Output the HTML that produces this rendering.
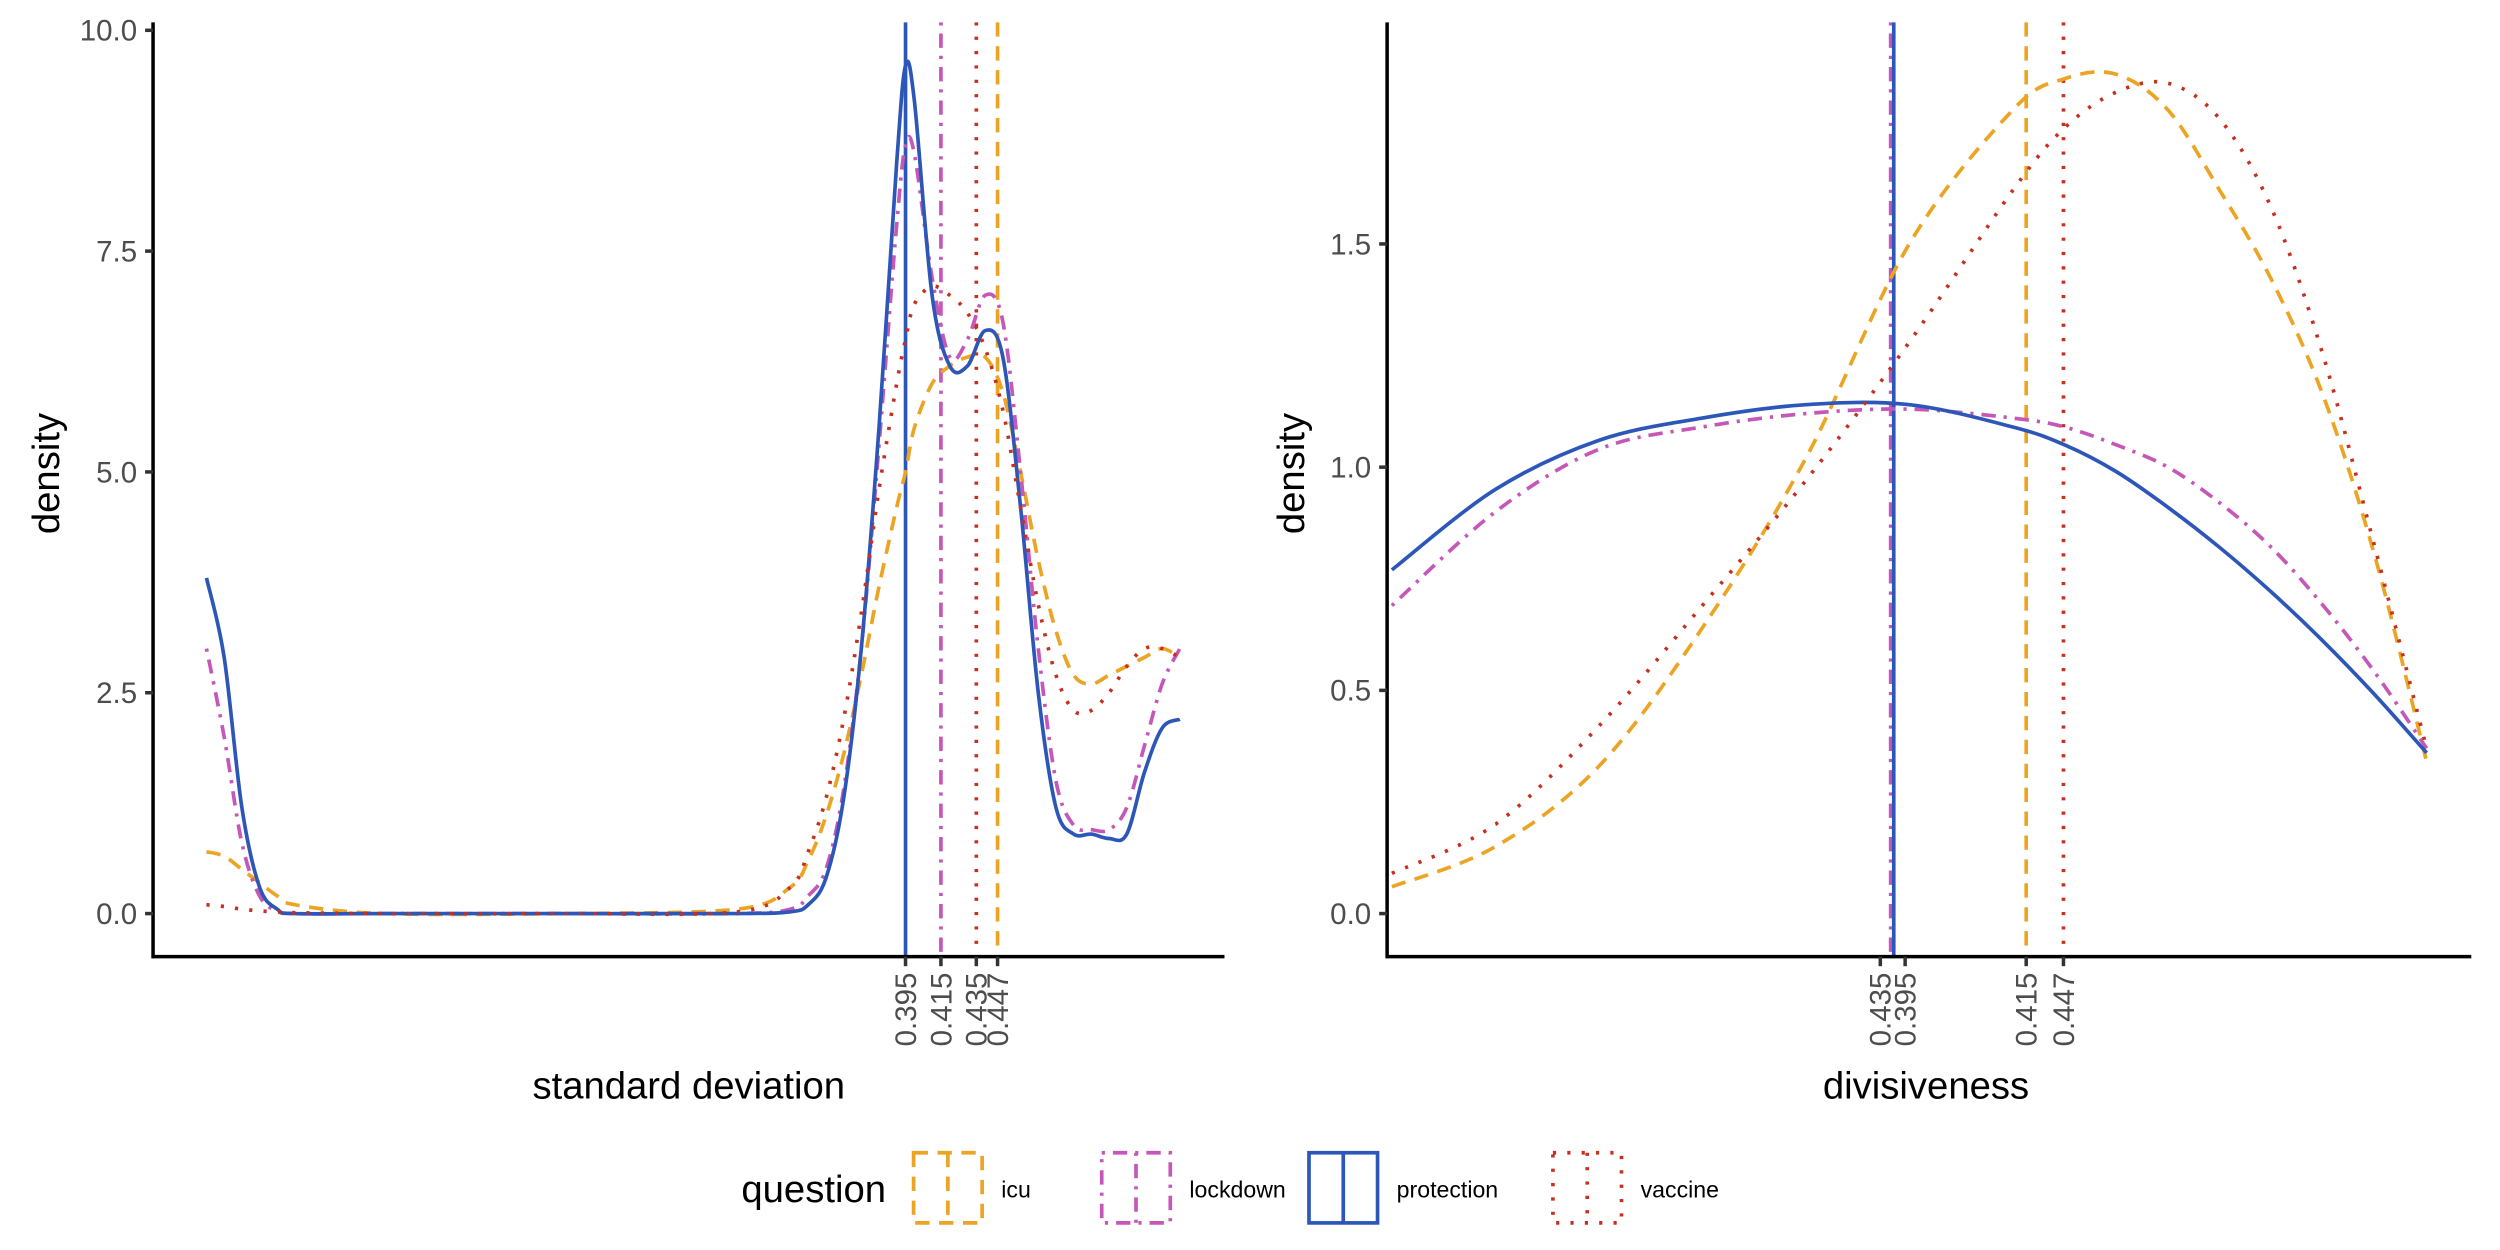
<!DOCTYPE html>
<html><head><meta charset="utf-8"><style>
html,body{margin:0;padding:0;background:#fff;}
svg{display:block;font-family:"Liberation Sans",Arial,sans-serif;}
</style></head><body>
<svg id="chart" width="2500" height="1250" viewBox="0 0 1568 784" xmlns="http://www.w3.org/2000/svg">
<g id="left"></g>
<g id="right"></g>
<g id="legend"></g>
</svg>
<script>
// ---- data ----
const seriesNames = ["icu","lockdown","protection","vaccine"];
const sdGrid = [0,0.01,0.02,0.03,0.04,0.05,0.1,0.2,0.3,0.33,0.34,0.35,0.36,0.37,0.38,0.39,0.395,0.40,0.41,0.42,0.43,0.44,0.45,0.46,0.47,0.48,0.49,0.50,0.51,0.52,0.53,0.54,0.55];
const sdIcu =        [0.7,0.65,0.5,0.35,0.2,0.1,0,0,0.05,0.3,0.6,1.1,1.8,2.7,3.7,4.6,5.0,5.5,6.0,6.2,6.3,6.3,5.9,5.0,4.0,3.2,2.7,2.6,2.7,2.8,2.9,3.0,2.9];
const sdLockdown =   [3.0,2.0,0.8,0.2,0.03,0,0,0,0,0.05,0.2,0.5,1.4,3.0,5.3,7.8,8.7,8.6,7.2,6.3,6.5,7.0,6.7,5.0,3.0,1.5,1.0,0.95,0.95,1.2,1.9,2.6,3.0];
const sdProtection = [3.8,2.9,1.2,0.3,0.05,0,0,0,0,0.02,0.1,0.4,1.3,3.0,5.5,8.5,9.6,9.2,7.0,6.2,6.2,6.6,6.3,4.6,2.5,1.2,0.9,0.9,0.85,0.9,1.6,2.1,2.2];
const sdVaccine =    [0.1,0.08,0.05,0.03,0.02,0.01,0,0,0.02,0.3,0.7,1.3,2.2,3.4,4.8,6.0,6.5,6.9,7.1,7.0,6.8,6.4,5.7,4.6,3.5,2.7,2.3,2.3,2.5,2.8,3.0,3.0,2.9];
const sdMeans = [0.447,0.415,0.395,0.435];
const sdTickVals = [0.395,0.415,0.435,0.447];
const sdTickLabels = ["0.395","0.415","0.435","0.447"];
const sdYTicks = [0,2.5,5,7.5,10];
const sdYLabels = ["0.0","2.5","5.0","7.5","10.0"];

const dvGrid = [0,0.1,0.2,0.3,0.4,0.5,0.6,0.65,0.7,0.75,0.8,0.85,0.9,0.95,1];
const dvIcu =        [0.06,0.15,0.33,0.64,1.02,1.5,1.8,1.87,1.88,1.8,1.62,1.42,1.16,0.8,0.34];
const dvLockdown =   [0.69,0.9,1.04,1.09,1.12,1.13,1.11,1.09,1.05,1.0,0.92,0.82,0.69,0.54,0.37];
const dvProtection = [0.77,0.95,1.06,1.11,1.14,1.14,1.09,1.05,0.99,0.91,0.82,0.72,0.61,0.49,0.36];
const dvVaccine =    [0.09,0.2,0.42,0.69,0.97,1.28,1.62,1.76,1.84,1.86,1.78,1.58,1.25,0.82,0.37];
const dvMeans = [0.613,0.482,0.485,0.649];
const dvTickVals = [0.472,0.496,0.613,0.649];
const dvTickLabels = ["0.435","0.395","0.415","0.447"];
const dvYTicks = [0,0.5,1,1.5];
const dvYLabels = ["0.0","0.5","1.0","1.5"];

// ---- styles ----
const colors = {icu:"#EBA423",lockdown:"#C557B9",protection:"#2C57B8",vaccine:"#C7301F"};
const dashes = {icu:"9,6",lockdown:"2,5,9,5",protection:"",vaccine:"2,7"};
const NS = "http://www.w3.org/2000/svg";
function mk(tag, attrs, parent){const e=document.createElementNS(NS,tag);for(const k in attrs)e.setAttribute(k,attrs[k]);if(parent)parent.appendChild(e);return e;}
function smooth(pts){let d="M"+pts[0][0].toFixed(2)+","+pts[0][1].toFixed(2);for(let i=0;i<pts.length-1;i++){const p0=pts[Math.max(0,i-1)],p1=pts[i],p2=pts[i+1],p3=pts[Math.min(pts.length-1,i+2)];const c1=[p1[0]+(p2[0]-p0[0])/6,p1[1]+(p2[1]-p0[1])/6],c2=[p2[0]-(p3[0]-p1[0])/6,p2[1]-(p3[1]-p1[1])/6];d+=" C"+c1[0].toFixed(2)+","+c1[1].toFixed(2)+" "+c2[0].toFixed(2)+","+c2[1].toFixed(2)+" "+p2[0].toFixed(2)+","+p2[1].toFixed(2);}return d;}

function panel(g, cfg){
  const {xs, ys, grid, series, means, tickVals, tickLabels, yTicks, yLabels, axX, axY, top, right, title, titleX, densX, key} = cfg;
  seriesNames.forEach((n,i)=>{
    const l = mk("line",{x1:xs(means[i]),x2:xs(means[i]),y1:top,y2:axY,stroke:colors[n],"stroke-width":2.3,"stroke-dasharray":dashes[n]},g);
    
    
  });
  seriesNames.forEach((n,i)=>{
    const pts = grid.map((v,j)=>[xs(v),ys(series[i][j])]);
    const p = mk("path",{d:smooth(pts),fill:"none",stroke:colors[n],"stroke-width":2.3,"stroke-dasharray":dashes[n]},g);
    
    
  });
  const ya = mk("line",{x1:axX,x2:axX,y1:top,y2:axY+1,stroke:"#000","stroke-width":2.2},g);
  
  
  const xa = mk("line",{x1:axX-1,x2:right,y1:axY,y2:axY,stroke:"#000","stroke-width":2.2},g);
  
  
  yTicks.forEach((v,i)=>{
    mk("line",{x1:axX-5,x2:axX,y1:ys(v),y2:ys(v),stroke:"#333","stroke-width":2.2},g);
    const t = mk("text",{x:axX-10,y:ys(v)+6.5,"text-anchor":"end","font-size":18.5,fill:"#4d4d4d"},g);
    t.textContent = yLabels[i];
    
    
  });
  tickVals.forEach((v,i)=>{
    const x = xs(v);
    mk("line",{x1:x,x2:x,y1:axY,y2:axY+6,stroke:"#333","stroke-width":2.2},g);
    const t = mk("text",{x:0,y:0,"text-anchor":"end","font-size":18.5,fill:"#4d4d4d",transform:"translate("+(x+6.5)+","+(axY+10)+") rotate(-90)"},g);
    t.textContent = tickLabels[i];
    
    
  });
  const tt = mk("text",{x:titleX,y:689,"text-anchor":"middle","font-size":24,fill:"#000"},g);
  tt.textContent = title;
  
  
  const dt = mk("text",{x:0,y:0,"text-anchor":"middle","font-size":24,fill:"#000",transform:"translate("+densX+",297) rotate(-90)"},g);
  dt.textContent = "density";
  
  
}

const lx = v => 129.5 + 1110*v, ly = v => 573 - 55.4*v;
panel(document.getElementById("left"),{xs:lx,ys:ly,grid:sdGrid,series:[sdIcu,sdLockdown,sdProtection,sdVaccine],means:sdMeans,tickVals:sdTickVals,tickLabels:sdTickLabels,yTicks:sdYTicks,yLabels:sdYLabels,axX:96,axY:600,top:14,right:768,title:"standard deviation",titleX:432,densX:37,key:"sd"});
const rx = v => 873 + 649*v, ry = v => 573 - 280*v;
panel(document.getElementById("right"),{xs:rx,ys:ry,grid:dvGrid,series:[dvIcu,dvLockdown,dvProtection,dvVaccine],means:dvMeans,tickVals:dvTickVals,tickLabels:dvTickLabels,yTicks:dvYTicks,yLabels:dvYLabels,axX:870,axY:600,top:14,right:1550,title:"divisiveness",titleX:1208,densX:818,key:"dv"});

const lg = document.getElementById("legend");
const lt = mk("text",{x:465,y:754,"font-size":24,fill:"#000"},lg);
lt.textContent = "question";


const keyX = [573,691,821,974];
seriesNames.forEach((n,i)=>{
  const g = mk("g",{},lg);
  
  
  mk("rect",{x:keyX[i],y:723,width:43,height:44,fill:"none",stroke:colors[n],"stroke-width":2.3,"stroke-dasharray":dashes[n]},g);
  mk("line",{x1:keyX[i]+21.5,x2:keyX[i]+21.5,y1:723,y2:767,stroke:colors[n],"stroke-width":2.3,"stroke-dasharray":dashes[n]},g);
  const t = mk("text",{x:keyX[i]+55,y:751,"font-size":14.5,fill:"#000"},g);
  t.textContent = n;
});
</script>
</body></html>
